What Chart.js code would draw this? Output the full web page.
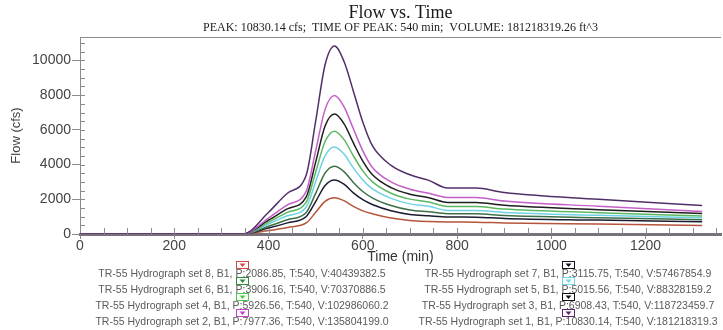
<!DOCTYPE html>
<html>
<head>
<meta charset="utf-8">
<script src="https://cdn.jsdelivr.net/npm/chart.js@4.4.0/dist/chart.umd.min.js"></script>
<style>
  html, body { margin: 0; padding: 0; background: #fff; }
  #flowChart { display: block; }
</style>
</head>
<body>
<canvas id="flowChart" width="723" height="330"></canvas>
<script>
// DATA
const times = [0, 346, 400, 440, 480, 500, 520, 540, 560, 580, 600, 620, 660, 700, 740, 780, 840, 900, 1100, 1320];

const set1 = [0, 0, 1250, 2350, 3400, 6500, 9750, 10830, 9950, 8230, 6450, 5100, 3950, 3410, 3090, 2650, 2650, 2390, 2000, 1640];
const set2 = [0, 0, 920, 1680, 2470, 4790, 7180, 7977, 7340, 6060, 4790, 3850, 3000, 2580, 2350, 2110, 2100, 1900, 1600, 1300];
const set3 = [0, 0, 795, 1450, 2140, 4140, 6220, 6908, 6360, 5250, 4200, 3430, 2670, 2290, 2090, 1820, 1810, 1650, 1400, 1180];
const set4 = [0, 0, 680, 1245, 1840, 3560, 5330, 5927, 5450, 4500, 3640, 3020, 2350, 2010, 1840, 1590, 1580, 1440, 1230, 1030];
const set5 = [0, 0, 577, 1050, 1555, 3010, 4510, 5016, 4610, 3810, 3115, 2610, 2050, 1735, 1600, 1360, 1350, 1240, 1080, 940];
const set6 = [0, 0, 450, 820, 1240, 2340, 3515, 3906, 3590, 2970, 2450, 2085, 1640, 1380, 1280, 1170, 1160, 1070, 940, 820];
const set7 = [0, 0, 340, 640, 1010, 1870, 2800, 3116, 2870, 2370, 1975, 1700, 1340, 1130, 1050, 980, 970, 900, 800, 700];
const set8 = [0, 0, 200, 380, 634, 1250, 1880, 2087, 1920, 1590, 1335, 1170, 920, 780, 720, 690, 680, 640, 570, 490];

const seriesLabels = [
  "TR-55 Hydrograph set 1, B1, P:10830.14, T:540, V:181218319.3",
  "TR-55 Hydrograph set 2, B1, P:7977.36, T:540, V:135804199.0",
  "TR-55 Hydrograph set 3, B1, P:6908.43, T:540, V:118723459.7",
  "TR-55 Hydrograph set 4, B1, P:5926.56, T:540, V:102986060.2",
  "TR-55 Hydrograph set 5, B1, P:5015.56, T:540, V:88328159.2",
  "TR-55 Hydrograph set 6, B1, P:3906.16, T:540, V:70370886.5",
  "TR-55 Hydrograph set 7, B1, P:3115.75, T:540, V:57467854.9",
  "TR-55 Hydrograph set 8, B1, P:2086.85, T:540, V:40439382.5"
];
const seriesColors = ["#50306a", "#c45ec8", "#1e1e1e", "#5cb860", "#6ed2e6", "#3c7048", "#1c1c30", "#b4553c"];
const legendColors = ["#5a2468", "#c040c8", "#101010", "#4cc84c", "#70d8e8", "#2e8a3a", "#101020", "#d04848"];

const xTickValues = [0, 200, 400, 600, 800, 1000, 1200];
const yTickValues = [0, 2000, 4000, 6000, 8000, 10000];

const chartTitle = "Flow vs. Time";
const chartSubtitle = "PEAK: 10830.14 cfs;  TIME OF PEAK: 540 min;  VOLUME: 181218319.26 ft^3";

// legend rows: left column / right column, by set number
const legendLeft = [8, 6, 4, 2];
const legendRight = [7, 5, 3, 1];

const allSets = [set1, set2, set3, set4, set5, set6, set7, set8];

// BUILD DATASETS
const datasets = allSets.map((vals, i) => ({
  label: seriesLabels[i],
  data: times.map((t, k) => ({ x: t, y: vals[k] })),
  borderColor: seriesColors[i],
  backgroundColor: seriesColors[i],
  borderWidth: 1.5,
  pointRadius: 0,
  fill: false,
  cubicInterpolationMode: "monotone",
}));

// minor ticks + frame top line
const tickPlugin = {
  id: "minorTicks",
  afterDraw(chart) {
    const ctx = chart.ctx;
    const xs = chart.scales.x;
    const ys = chart.scales.y;
    const area = chart.chartArea;
    ctx.save();
    ctx.strokeStyle = "#8c8c8c";
    ctx.lineWidth = 1;
    // top frame
    ctx.beginPath();
    ctx.moveTo(area.left, area.top + 0.5);
    ctx.lineTo(area.right, area.top + 0.5);
    ctx.stroke();
    // x inside ticks
    for (let v = 50; v <= xs.max; v += 50) {
      const px = Math.round(xs.getPixelForValue(v)) + 0.5;
      ctx.beginPath();
      ctx.moveTo(px, area.bottom);
      ctx.lineTo(px, area.bottom - 6);
      ctx.stroke();
    }
    // y inside ticks
    for (let v = 500; v <= ys.max; v += 500) {
      const py = Math.round(ys.getPixelForValue(v)) + 0.5;
      ctx.beginPath();
      ctx.moveTo(area.left, py);
      ctx.lineTo(area.left + 5, py);
      ctx.stroke();
    }
    ctx.restore();
  },
};

// legend drawn under the axis title
const legendPlugin = {
  id: "setLegend",
  afterDraw(chart) {
    const ctx = chart.ctx;
    const rowsY = [274, 290, 306, 322];
    const colX = [242, 568];
    ctx.save();
    ctx.font = '10.5px "Liberation Sans", Arial, sans-serif';
    ctx.textBaseline = "middle";
    ctx.textAlign = "center";
    [legendLeft, legendRight].forEach((col, c) => {
      col.forEach((setNo, r) => {
        const ds = chart.data.datasets[setNo - 1];
        const cx = colX[c];
        const ty = rowsY[r];
        // marker box
        const bx = cx - 6, by = ty - 13, bw = 12, bh = 7;
        ctx.fillStyle = "#fff";
        ctx.fillRect(bx, by, bw, bh);
        ctx.strokeStyle = legendColors[setNo - 1];
        ctx.lineWidth = 1;
        ctx.strokeRect(bx + 0.5, by + 0.5, bw, bh);
        ctx.fillStyle = legendColors[setNo - 1];
        ctx.beginPath();
        ctx.moveTo(cx - 2.5, by + 2.5);
        ctx.lineTo(cx + 3.5, by + 2.5);
        ctx.lineTo(cx + 0.5, by + 6);
        ctx.closePath();
        ctx.fill();
        // text
        ctx.fillStyle = "#5a5a5a";
        ctx.fillText(ds.label, cx, ty);
      });
    });
    ctx.restore();
  },
};

Chart.defaults.font.family = '"Liberation Sans", Arial, sans-serif';
Chart.defaults.color = "#444";

const flowChart = new Chart(document.getElementById("flowChart"), {
  type: "line",
  data: { datasets: datasets },
  options: {
    responsive: false,
    animation: false,
    devicePixelRatio: 1,
    layout: { padding: { left: 0, right: 2, top: 0, bottom: 66 } },
    plugins: {
      legend: { display: false },
      tooltip: { enabled: false },
      title: {
        display: true,
        text: chartTitle,
        fullSize: false,
        color: "#1a1a1a",
        font: { family: '"Liberation Serif", "Times New Roman", serif', size: 18, weight: "normal", lineHeight: 1 },
        padding: { top: 4, bottom: 0 },
      },
      subtitle: {
        display: true,
        text: chartSubtitle,
        fullSize: false,
        color: "#222",
        font: { family: '"Liberation Serif", "Times New Roman", serif', size: 12, weight: "normal", lineHeight: 1 },
        padding: { top: 0, bottom: 3 },
      },
    },
    scales: {
      x: {
        type: "linear",
        min: 0,
        max: 1360,
        afterFit(scale) { scale.height = 30; },
        afterBuildTicks(scale) { scale.ticks = xTickValues.map((v) => ({ value: v })); },
        border: { display: true, color: "#78727a", width: 3 },
        grid: { display: true, drawOnChartArea: false, drawTicks: true, tickLength: 5, color: "#8c8c8c" },
        ticks: {
          padding: 0,
          maxRotation: 0,
          autoSkip: false,
          color: "#444",
          font: { size: 14, lineHeight: 1 },
          callback: (v) => String(v),
        },
        title: {
          display: true,
          text: "Time (min)",
          color: "#333",
          font: { size: 14, lineHeight: 1 },
          padding: { top: 0, bottom: 0 },
        },
      },
      y: {
        type: "linear",
        min: 0,
        max: 11350,
        afterFit(scale) { scale.width = 80; },
        afterBuildTicks(scale) { scale.ticks = yTickValues.map((v) => ({ value: v })); },
        border: { display: true, color: "#8c8c8c", width: 1 },
        grid: { display: true, drawOnChartArea: false, drawTicks: true, tickLength: 8, color: "#8c8c8c" },
        ticks: {
          padding: 1,
          autoSkip: false,
          color: "#444",
          font: { size: 14, lineHeight: 1 },
          callback: (v) => String(v),
        },
        title: {
          display: true,
          text: "Flow (cfs)",
          color: "#444",
          font: { size: 13, lineHeight: 1 },
          padding: { top: 10, bottom: 0 },
        },
      },
    },
  },
  plugins: [tickPlugin, legendPlugin],
});
</script>
</body>
</html>
